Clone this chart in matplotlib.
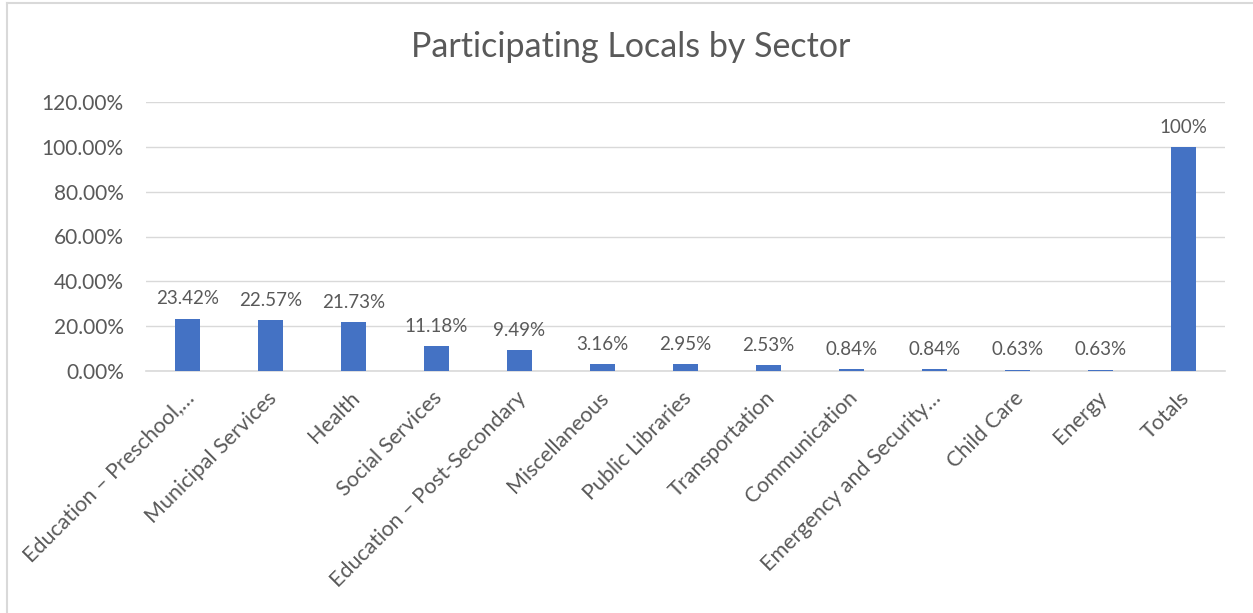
import matplotlib.pyplot as plt
from matplotlib.lines import Line2D
from matplotlib.ticker import FuncFormatter
from matplotlib.transforms import ScaledTranslation

sectors = ["Education \u2013 Preschool,\u2026", "Municipal Services", "Health",
           "Social Services", "Education \u2013 Post-Secondary", "Miscellaneous",
           "Public Libraries", "Transportation", "Communication",
           "Emergency and Security\u2026", "Child Care", "Energy", "Totals"]
shares = [23.42, 22.57, 21.73, 11.18, 9.49, 3.16, 2.95, 2.53, 0.84, 0.84, 0.63, 0.63, 100]
labels = ["23.42%", "22.57%", "21.73%", "11.18%", "9.49%", "3.16%", "2.95%",
          "2.53%", "0.84%", "0.84%", "0.63%", "0.63%", "100%"]

bar_colour = "#4472c4"
text_colour = "#595959"
grid_colour = "#d9d9d9"

plt.rcParams['font.family'] = ['Lato', 'DejaVu Sans']

fig = plt.figure(figsize=(12.53, 6.13), dpi=100)
ax = fig.add_axes([146 / 1253, 1 - 371 / 613, (1225 - 146) / 1253, (371 - 102) / 613])

# chart area outline (left and top edges only show)
fig.add_artist(Line2D([7 / 1253, 7 / 1253], [0, 1 - 3 / 613], color=grid_colour, lw=1.5))
fig.add_artist(Line2D([7 / 1253, 1], [1 - 3 / 613, 1 - 3 / 613], color=grid_colour, lw=1.5))

xs = range(len(sectors))
ax.bar(xs, shares, width=0.31, color=bar_colour, zorder=3)

for x, v, lab in zip(xs, shares, labels):
    ax.annotate(lab, (x, v), xytext=(0, 8), textcoords="offset points",
                ha='center', va='bottom', fontsize=13.5, color=text_colour)

ax.set_xlim(-0.5, len(sectors) - 0.5)
ax.set_ylim(0, 120)
ax.set_yticks(range(0, 121, 20))
ax.yaxis.set_major_formatter(FuncFormatter(lambda v, p: f"{v:.2f}%"))
ax.grid(axis='y', color=grid_colour, lw=1, zorder=0)

ax.set_xticks(list(xs))
ax.set_xticklabels(sectors, rotation=45, ha='right', va='top', rotation_mode='anchor',
                   fontsize=15.5, color=text_colour)
ax.tick_params(axis='x', length=0, pad=12)
ax.tick_params(axis='y', length=0, pad=16, labelsize=15, labelcolor=text_colour)

# nudge the slanted category names a little to the left
shift = ScaledTranslation(-3 / 72, 0, fig.dpi_scale_trans)
for lbl in ax.get_xticklabels():
    lbl.set_transform(lbl.get_transform() + shift)

for side in ['top', 'right', 'left']:
    ax.spines[side].set_visible(False)
ax.spines['bottom'].set_color(grid_colour)
ax.spines['bottom'].set_linewidth(1.2)

fig.text(631 / 1253, 1 - 47 / 613, "Participating Locals by Sector", ha='center', va='center',
         fontsize=24.5, color=text_colour)

fig.savefig("out.png", dpi=100, facecolor='white')
